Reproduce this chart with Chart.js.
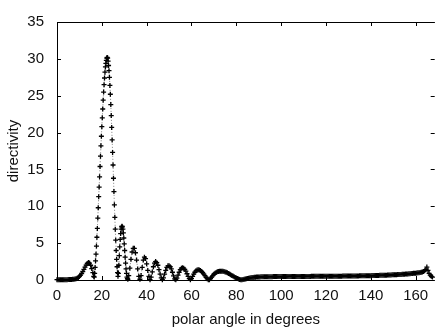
<!DOCTYPE html>
<html>
<head>
<meta charset="utf-8">
<script src="https://cdn.jsdelivr.net/npm/chart.js@4.4.0/dist/chart.umd.min.js"></script>
<style>
  html, body { margin: 0; padding: 0; background: #fff; }
  #wrap { width: 440px; height: 334px; }
</style>
</head>
<body>
<div id="wrap"><canvas id="chart"></canvas></div>
<script>
// --- Data ---
const angles = [
  0, 0.5, 1, 1.5, 2, 2.5, 3, 3.5, 4, 4.5, 5, 5.5, 6, 6.5, 7,
  7.5, 8, 8.5, 9, 9.5, 10, 10.5, 11, 11.5, 12, 12.5, 13, 13.5, 14, 14.5, 15, 15.5, 16, 16.4,
  16.6, 16.8, 17.0, 17.2, 17.4, 17.6, 17.8, 18.0, 18.2, 18.4, 18.6, 18.8, 19.0, 19.2, 19.4, 19.6, 19.8,
  20.0, 20.2, 20.4, 20.6, 20.8, 21.0, 21.2, 21.4, 21.6, 21.8, 22.0, 22.2, 22.4, 22.6, 22.8,
  23.0, 23.2, 23.4, 23.6, 23.8, 24.0, 24.2, 24.4, 24.6, 24.8, 25.0, 25.2, 25.4, 25.6, 25.8,
  26.0, 26.2, 26.4, 26.6, 26.8, 27.0, 27.2,
  27.4, 27.6, 27.8, 28.0, 28.2, 28.4, 28.6, 28.8, 29.0, 29.2, 29.4, 29.6, 29.8,
  30.0, 30.2, 30.4, 30.6, 30.8, 31.0, 31.2, 31.4, 31.6,
  32, 32.5, 33, 33.5, 34, 34.5, 35, 35.5, 36, 36.5, 37,
  37.5, 38, 38.5, 39, 39.5, 40, 40.5, 41, 41.5,
  42, 42.5, 43, 43.5, 44, 44.5, 45, 45.5, 46, 46.5, 47,
  47.5, 48, 48.5, 49, 49.5, 50, 50.5, 51, 51.5, 52, 52.5, 53,
  53.5, 54, 54.5, 55, 55.5, 56, 56.5, 57, 57.5, 58, 58.5, 59, 59.5,
  60, 60.5, 61, 61.5, 62, 62.5, 63, 63.5, 64, 64.5, 65, 65.5, 66, 66.5, 67, 67.5, 68,
  68.5, 69, 69.5, 70, 70.5, 71, 71.5, 72, 72.5, 73, 73.5, 74, 74.5, 75, 75.5,
  76, 76.5, 77, 77.5, 78, 78.5, 79, 79.5, 80, 80.5, 81, 81.5, 82, 82.5,
  83, 83.5, 84, 84.5, 85, 85.5, 86, 86.5, 87, 87.5, 88, 88.5, 89, 89.5, 90,
  90.5, 91, 91.5, 92, 92.5, 93, 93.5, 94, 94.5, 95, 95.5, 96, 96.5, 97, 97.5, 98, 98.5, 99, 99.5, 100,
  100.5, 101, 101.5, 102, 102.5, 103, 103.5, 104, 104.5, 105, 105.5, 106, 106.5, 107, 107.5, 108, 108.5, 109, 109.5, 110,
  110.5, 111, 111.5, 112, 112.5, 113, 113.5, 114, 114.5, 115, 115.5, 116, 116.5, 117, 117.5, 118, 118.5, 119, 119.5, 120,
  120.5, 121, 121.5, 122, 122.5, 123, 123.5, 124, 124.5, 125, 125.5, 126, 126.5, 127, 127.5, 128, 128.5, 129, 129.5, 130,
  130.5, 131, 131.5, 132, 132.5, 133, 133.5, 134, 134.5, 135, 135.5, 136, 136.5, 137, 137.5, 138, 138.5, 139, 139.5, 140,
  140.5, 141, 141.5, 142, 142.5, 143, 143.5, 144, 144.5, 145, 145.5, 146, 146.5, 147, 147.5, 148, 148.5, 149, 149.5, 150,
  150.5, 151, 151.5, 152, 152.5, 153, 153.5, 154, 154.5, 155, 155.5, 156, 156.5, 157, 157.5, 158, 158.5, 159, 159.5, 160,
  160.5, 161, 161.5, 162, 162.5, 163, 163.5, 164,
  164.5, 165, 165.5, 166, 166.5, 167, 167.5
];

const directivity = [
  0.05, 0.05, 0.05, 0.05, 0.05, 0.05, 0.05, 0.05, 0.05, 0.05, 0.06, 0.06, 0.07, 0.08, 0.09,
  0.1, 0.13, 0.18, 0.25, 0.35, 0.48, 0.65, 0.88, 1.15, 1.45, 1.75, 2.02, 2.25, 2.38, 2.3, 2.0, 1.55, 1.0, 0.5,
  0.4, 0.9, 1.7, 2.6, 3.5, 4.6, 5.8, 7.0, 8.4, 9.8, 11.3, 12.6, 14.0, 15.4, 16.8, 18.2, 19.5,
  20.8, 22.0, 23.2, 24.4, 25.5, 26.5, 27.4, 28.2, 28.9, 29.4, 29.8, 30.1, 30.2, 30.1, 29.7,
  29.1, 28.4, 27.5, 26.4, 25.2, 23.8, 22.3, 20.7, 19.0, 17.3, 15.6, 13.8, 12.0, 10.2, 8.5,
  6.9, 5.4, 4.0, 2.8, 1.8, 1.0, 0.5,
  0.9, 2.0, 3.3, 4.5, 5.5, 6.3, 6.9, 7.2, 7.3, 7.2, 6.9, 6.4, 5.7,
  4.9, 4.0, 3.1, 2.3, 1.5, 0.9, 0.4, 0.2, 0.1,
  0.6, 1.6, 2.8, 3.8, 4.3, 4.3, 3.7, 2.7, 1.5, 0.5, 0.1,
  0.6, 1.7, 2.7, 3.1, 2.9, 2.2, 1.3, 0.5, 0.05,
  0.4, 1.1, 1.8, 2.3, 2.5, 2.35, 2.0, 1.4, 0.8, 0.3, 0.05,
  0.3, 0.8, 1.3, 1.7, 1.92, 1.95, 1.8, 1.5, 1.05, 0.55, 0.15, 0.05,
  0.25, 0.65, 1.05, 1.4, 1.6, 1.65, 1.6, 1.45, 1.2, 0.85, 0.5, 0.2, 0.05,
  0.2, 0.5, 0.8, 1.05, 1.25, 1.37, 1.4, 1.37, 1.3, 1.17, 1.0, 0.8, 0.58, 0.37, 0.18, 0.05, 0.03,
  0.2, 0.4, 0.6, 0.78, 0.92, 1.03, 1.11, 1.16, 1.19, 1.2, 1.2, 1.18, 1.15, 1.1, 1.04,
  0.97, 0.89, 0.8, 0.71, 0.62, 0.53, 0.44, 0.35, 0.27, 0.19, 0.12, 0.07, 0.03, 0.02,
  0.08, 0.11, 0.15, 0.18, 0.22, 0.25, 0.28, 0.3, 0.33, 0.35, 0.37, 0.39, 0.4, 0.41, 0.42,
  0.42, 0.43, 0.43, 0.44, 0.44, 0.44, 0.44, 0.45, 0.45, 0.45, 0.45, 0.45, 0.46, 0.46, 0.46, 0.46, 0.46, 0.46, 0.47, 0.47,
  0.47, 0.47, 0.47, 0.47, 0.47, 0.48, 0.48, 0.48, 0.48, 0.48, 0.48, 0.48, 0.48, 0.48, 0.48, 0.49, 0.49, 0.49, 0.49, 0.49,
  0.49, 0.49, 0.49, 0.49, 0.49, 0.49, 0.5, 0.5, 0.5, 0.5, 0.5, 0.5, 0.5, 0.5, 0.5, 0.5, 0.5, 0.5, 0.51, 0.51,
  0.51, 0.51, 0.51, 0.51, 0.51, 0.51, 0.52, 0.52, 0.52, 0.52, 0.52, 0.52, 0.52, 0.52, 0.53, 0.53, 0.53, 0.53, 0.53, 0.53,
  0.54, 0.54, 0.54, 0.54, 0.54, 0.55, 0.55, 0.55, 0.55, 0.56, 0.56, 0.56, 0.56, 0.57, 0.57, 0.58, 0.58, 0.58, 0.59, 0.59,
  0.6, 0.6, 0.6, 0.61, 0.61, 0.62, 0.62, 0.63, 0.63, 0.64, 0.64, 0.65, 0.65, 0.66, 0.67, 0.68, 0.68, 0.69, 0.7, 0.7,
  0.71, 0.72, 0.72, 0.73, 0.74, 0.75, 0.76, 0.77, 0.78, 0.79, 0.8, 0.81, 0.82, 0.84, 0.85, 0.87, 0.88, 0.9, 0.92, 0.93,
  0.95, 0.97, 1.0, 1.02, 1.06, 1.1, 1.17, 1.25,
  1.4, 1.75, 1.3, 0.9, 0.65, 0.5, 0.4
];

const xTicks = [0, 20, 40, 60, 80, 100, 120, 140, 160];
const yTicks = [0, 5, 10, 15, 20, 25, 30, 35];
const xMax = 168.5;

const FONT = "'Liberation Sans', Arial, Helvetica, sans-serif";
const INK = '#111';

// gnuplot style frame: left/top/bottom border with inward ticks
const frame = {
  id: 'frame',
  beforeDatasetsDraw(chart) {
    const { ctx, chartArea: a, scales: { x, y } } = chart;
    ctx.save();
    ctx.strokeStyle = '#000';
    ctx.lineWidth = 1;
    ctx.beginPath();
    ctx.moveTo(a.left + 0.5, a.bottom + 0.5);
    ctx.lineTo(a.left + 0.5, a.top + 0.5);
    ctx.lineTo(a.right, a.top + 0.5);
    ctx.moveTo(a.left, a.bottom + 0.5);
    ctx.lineTo(a.right, a.bottom + 0.5);
    x.ticks.forEach(t => {
      const px = Math.round(x.getPixelForValue(t.value)) + 0.5;
      ctx.moveTo(px, a.bottom); ctx.lineTo(px, a.bottom - 4);
      ctx.moveTo(px, a.top); ctx.lineTo(px, a.top + 4);
    });
    y.ticks.forEach(t => {
      const py = Math.round(y.getPixelForValue(t.value)) + 0.5;
      ctx.moveTo(a.left, py); ctx.lineTo(a.left + 4, py);
      ctx.moveTo(a.right, py); ctx.lineTo(a.right - 4, py);
    });
    ctx.stroke();
    ctx.restore();
  }
};

const points = angles.map((a, i) => ({ x: a, y: directivity[i] }));

new Chart(document.getElementById('chart'), {
  type: 'scatter',
  data: {
    datasets: [{
      data: points,
      showLine: true,
      borderColor: 'rgba(0,0,0,0.5)',
      borderWidth: 1,
      borderDash: [1, 2],
      pointStyle: 'cross',
      pointRadius: 2.5,
      pointBorderWidth: 1.3,
      pointBorderColor: '#000',
      clip: false
    }]
  },
  options: {
    responsive: true,
    maintainAspectRatio: false,
    animation: false,
    layout: { padding: { top: 12, right: 0, bottom: 0, left: 0 } },
    plugins: { legend: { display: false }, tooltip: { enabled: false } },
    scales: {
      x: {
        type: 'linear',
        min: 0,
        max: xMax,
        afterBuildTicks: s => { s.ticks = xTicks.map(v => ({ value: v })); },
        afterFit: s => { s.height = 54; },
        grid: { display: false, drawTicks: false },
        border: { display: false },
        ticks: { color: INK, font: { family: FONT, size: 15 }, padding: 7, maxRotation: 0, autoSkip: false },
        title: {
          display: true, text: 'polar angle in degrees', color: INK,
          font: { family: FONT, size: 15 }, padding: { top: 0, bottom: 5 }
        }
      },
      y: {
        min: 0,
        max: 35,
        afterBuildTicks: s => { s.ticks = yTicks.map(v => ({ value: v })); },
        afterFit: s => { s.width = 57; },
        grid: { display: false, drawTicks: false },
        border: { display: false },
        ticks: { color: INK, font: { family: FONT, size: 15 }, padding: 13 },
        title: {
          display: true, text: 'directivity', color: INK,
          font: { family: FONT, size: 15 }, padding: { top: 5, bottom: 0 }
        }
      }
    }
  },
  plugins: [frame]
});
</script>
</body>
</html>
